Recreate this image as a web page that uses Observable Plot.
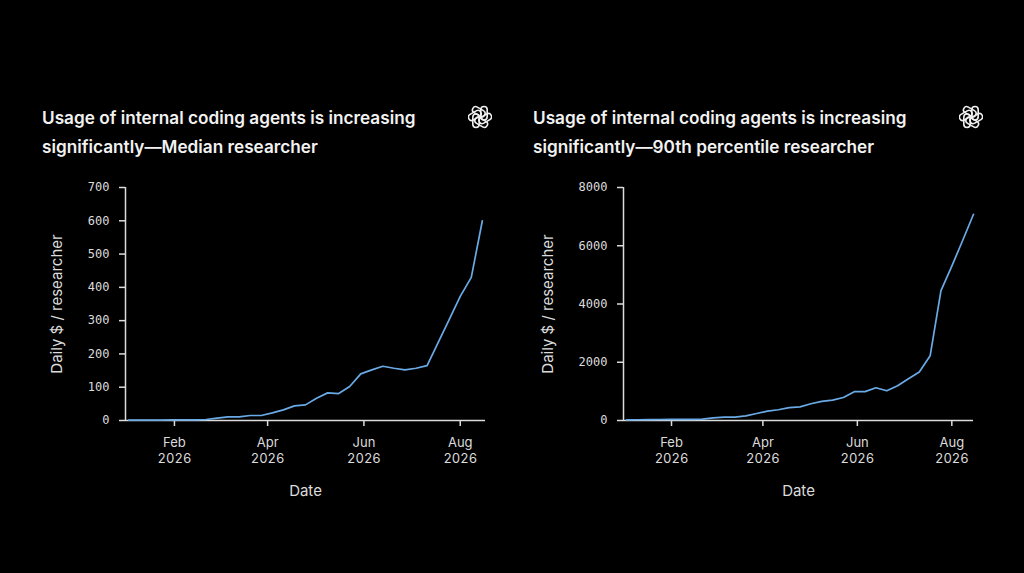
<!DOCTYPE html>
<html><head><meta charset="utf-8">
<script src="https://cdn.jsdelivr.net/npm/d3@7"></script>
<script src="https://cdn.jsdelivr.net/npm/@observablehq/plot@0.6"></script>
<style>
html,body{margin:0;padding:0;background:#000;}
#root{position:relative;width:1024px;height:573px;overflow:hidden;background:#000;font-family:Inter,"Noto Sans",sans-serif;}
.title{position:absolute;top:102.5px;color:#f2f2f2;font-family:Inter,sans-serif;font-weight:600;font-size:17.2px;line-height:29.5px;white-space:nowrap;}
.logo{position:absolute;top:105px;width:24px;height:24px;}
.chart{position:absolute;top:170px;}
</style></head><body>
<div id="root">
  <div class="title" style="left:42px">Usage of internal coding agents is increasing<br>significantly—Median researcher</div>
  <div class="title" style="left:533px">Usage of internal coding agents is increasing<br>significantly—90th percentile researcher</div>
  <div class="logo" id="logo1" style="left:468px"></div>
  <div class="logo" id="logo2" style="left:959px"></div>
  <div class="chart" id="c1" style="left:0px"></div>
  <div class="chart" id="c2" style="left:512px"></div>
</div>
<script>
// ---- data ----
const weekDates = ["2026-01-03","2026-01-10","2026-01-17","2026-01-24","2026-01-31",
  "2026-02-07","2026-02-14","2026-02-21","2026-02-28",
  "2026-03-07","2026-03-14","2026-03-21","2026-03-28",
  "2026-04-04","2026-04-11","2026-04-18","2026-04-25",
  "2026-05-02","2026-05-09","2026-05-16","2026-05-23","2026-05-30",
  "2026-06-06","2026-06-13","2026-06-20","2026-06-27",
  "2026-07-04","2026-07-11","2026-07-18","2026-07-25",
  "2026-08-01","2026-08-08","2026-08-15"];
const medianValues = [1,1,1,1,2,2,2,3,7,11,11,15,15,23,32,44,47,67,83,81,102,140,152,163,157,152,157,165,234,303,373,430,600];
const p90Values = [20,25,30,35,40,40,40,45,90,115,115,160,240,320,370,440,470,575,655,700,790,990,990,1125,1020,1195,1435,1665,2220,4460,5300,6180,7080];
const xTickDates = ["2026-02-01","2026-04-01","2026-06-01","2026-08-01"];
const yTicksMedian = [0,100,200,300,400,500,600,700];
const yTicksP90 = [0,2000,4000,6000,8000];
const yLabel = "Daily $ / researcher";
const xLabel = "Date";

const lineColor = "#6aaae6";
const axisColor = "#dcdcdc";

function chart(values, yTicks, xDomain, marginLeft, marginRight, labelDx) {
  const data = weekDates.map((d, i) => ({date: new Date(d), value: values[i]}));
  const x0 = new Date(xDomain[0]);
  return Plot.plot({
    width: 512, height: 340,
    marginLeft, marginRight, marginTop: 17, marginBottom: 90,
    style: {background: "transparent", color: axisColor, fontFamily: "Inter, sans-serif", fontSize: "13px"},
    x: {type: "utc", domain: xDomain.map(d => new Date(d))},
    y: {domain: [yTicks[0], yTicks[yTicks.length - 1]]},
    marks: [
      Plot.axisY({ticks: yTicks, tickSize: 6, tickPadding: 10, strokeWidth: 1.5,
        fontFamily: "DejaVu Sans Mono, monospace", fontSize: 12, label: null, tickFormat: d => String(d)}),
      Plot.axisX({ticks: xTickDates.map(d => new Date(d)), tickSize: 6, tickPadding: 10, strokeWidth: 1.5,
        fontSize: 13, lineHeight: 1.18, label: null,
        tickFormat: d => d3.utcFormat("%b")(d) + "\n" + d3.utcFormat("%Y")(d)}),
      Plot.ruleX([x0], {stroke: axisColor, strokeWidth: 1.5}),
      Plot.ruleY([0], {stroke: axisColor, strokeWidth: 1.5}),
      Plot.text([yLabel], {frameAnchor: "left", dx: labelDx, rotate: -90, fontSize: 15, fill: axisColor, textAnchor: "middle", lineAnchor: "middle"}),
      Plot.text([xLabel], {frameAnchor: "bottom", dy: 71, fontSize: 15, fill: axisColor, textAnchor: "middle", lineAnchor: "middle"}),
      Plot.lineY(data, {x: "date", y: "value", stroke: lineColor, strokeWidth: 1.7})
    ]
  });
}

document.getElementById("c1").append(chart(medianValues, yTicksMedian, ["2026-01-01","2026-08-17"], 125, 27, -68));
document.getElementById("c2").append(chart(p90Values, yTicksP90, ["2026-01-01","2026-08-15"], 111, 51, -75));

function logo() {
  const ns = "http://www.w3.org/2000/svg";
  const svg = document.createElementNS(ns, "svg");
  svg.setAttribute("width", 24); svg.setAttribute("height", 24);
  svg.setAttribute("viewBox", "-12 -12 24 24");
  for (let k = 0; k < 6; k++) {
    const r = document.createElementNS(ns, "rect");
    r.setAttribute("x", 0.8); r.setAttribute("y", -10.5);
    r.setAttribute("width", 6.4); r.setAttribute("height", 13.5);
    r.setAttribute("rx", 3.2);
    r.setAttribute("fill", "none"); r.setAttribute("stroke", "#f0f0f0");
    r.setAttribute("stroke-width", 1.6);
    r.setAttribute("transform", `rotate(${k * 60})`);
    svg.append(r);
  }
  return svg;
}
document.getElementById("logo1").append(logo());
document.getElementById("logo2").append(logo());
</script>
</body></html>
